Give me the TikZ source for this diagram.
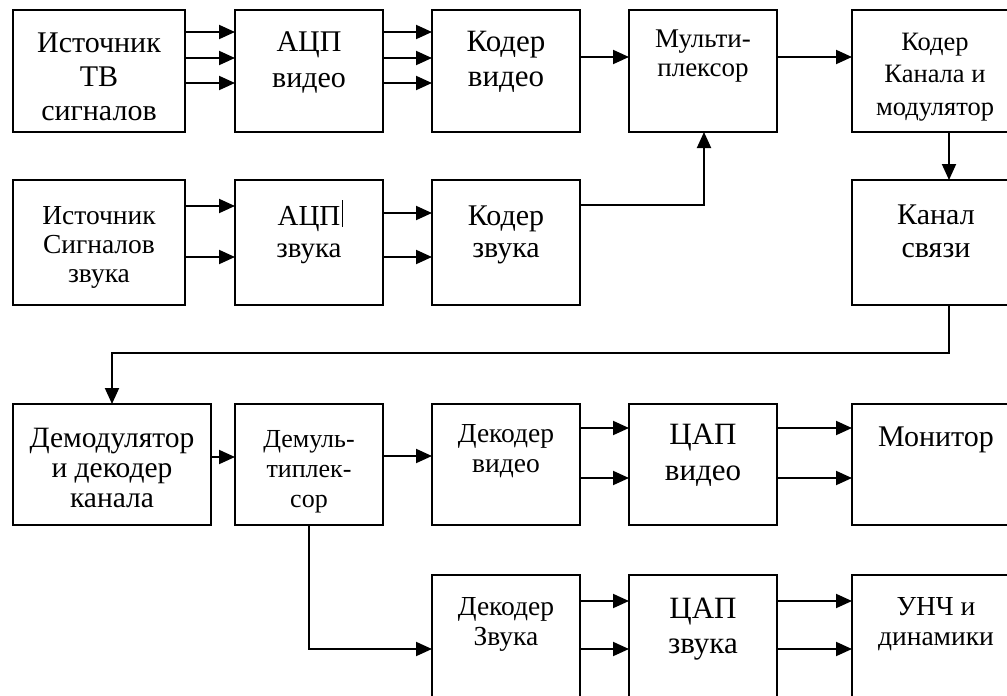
\documentclass[tikz,border=0pt]{standalone}
\usepackage{fontspec}
\setmainfont{Liberation Serif}
\usetikzlibrary{arrows.meta}
\begin{document}
\begin{tikzpicture}[x=1pt,y=-1pt,
  box/.style={draw, line width=1.5pt, rectangle, inner sep=0pt, outer sep=0pt, anchor=north west},
  arr/.style={line width=1.9pt, -{Triangle[length=16pt,width=14pt]}},
  txt/.style 2 args={font=\fontsize{#1}{#2}\selectfont, align=center, anchor=base, inner sep=0pt}]
\useasboundingbox (0,0) rectangle (1007,696);
\clip (0,0) rectangle (1007,696);
\fill[white] (0,0) rectangle (1007,696);
% row 1
\node[box, minimum width=172pt, minimum height=122pt] (b1) at (13,10) {};
\node[box, minimum width=148pt, minimum height=122pt] (b2) at (235,10) {};
\node[box, minimum width=148pt, minimum height=122pt] (b3) at (432,10) {};
\node[box, minimum width=148pt, minimum height=122pt] (b4) at (629,10) {};
\node[box, minimum width=160pt, minimum height=122pt] (b5) at (852,10) {};
% row 2
\node[box, minimum width=172pt, minimum height=125pt] (c1) at (13,180) {};
\node[box, minimum width=148pt, minimum height=125pt] (c2) at (235,180) {};
\node[box, minimum width=148pt, minimum height=125pt] (c3) at (432,180) {};
\node[box, minimum width=160pt, minimum height=125pt] (c5) at (852,180) {};
% row 3
\node[box, minimum width=198pt, minimum height=121pt] (d1) at (13,404) {};
\node[box, minimum width=148pt, minimum height=121pt] (d2) at (235,404) {};
\node[box, minimum width=148pt, minimum height=121pt] (d3) at (432,404) {};
\node[box, minimum width=148pt, minimum height=121pt] (d4) at (629,404) {};
\node[box, minimum width=160pt, minimum height=121pt] (d5) at (852,404) {};
% row 4
\node[box, minimum width=148pt, minimum height=126pt] (e3) at (432,575) {};
\node[box, minimum width=148pt, minimum height=126pt] (e4) at (629,575) {};
\node[box, minimum width=160pt, minimum height=126pt] (e5) at (852,575) {};
% texts (anchor = baseline of last line)
\node[txt={30}{34}] (tb1) at (99,120) {Источник\\ТВ\\сигналов};
\node[txt={30}{36}] (tb2) at (309,87) {АЦП\\видео};
\node[txt={31}{35}] (tb3) at (506,86) {Кодер\\видео};
\node[txt={27}{29}] (tb4) at (703,76) {Мульти-\\плексор};
\node[txt={26.5}{32.5}] (tb5) at (935,115) {Кодер\\Канала и\\модулятор};
\node[txt={27.5}{29}] (tc1) at (99,282) {Источник\\Сигналов\\звука};
\node[txt={29}{32}] (tc2) at (309,257) {АЦП\\звука};
\node[txt={30}{32}] (tc3) at (506,257) {Кодер\\звука};
\node[txt={30}{33}] (tc5) at (936,257) {Канал\\связи};
\node[txt={29.5}{30}] (td1) at (112,507) {Демодулятор\\и декодер\\канала};
\node[txt={26}{30}] (td2) at (309,507) {Демуль-\\типлек-\\сор};
\node[txt={27.5}{30}] (td3) at (506,472) {Декодер\\видео};
\node[txt={31}{36}] (td4) at (703,480) {ЦАП\\видео};
\node[txt={30}{33}] (td5) at (936,446) {Монитор};
\node[txt={27.5}{30}] (te3) at (506,645) {Декодер\\Звука};
\node[txt={31}{35}] (te4) at (703,653) {ЦАП\\звука};
\node[txt={27.5}{30}] (te5) at (936,645) {УНЧ и\\динамики};
\draw[line width=0.9pt] (342,200) -- (342,227);
% connectors row 1
\foreach \yy in {32,58,83} {
  \draw[arr] (b1.east |- 0,\yy) -- (b2.west |- 0,\yy);
  \draw[arr] (b2.east |- 0,\yy) -- (b3.west |- 0,\yy);
}
\draw[arr] (b3.east |- 0,57) -- (b4.west |- 0,57);
\draw[arr] (b4.east |- 0,57) -- (b5.west |- 0,57);
\draw[arr] (b5.south -| 949,0) -- (c5.north -| 949,0);
% row 2
\draw[arr] (c1.east |- 0,206) -- (c2.west |- 0,206);
\draw[arr] (c1.east |- 0,257) -- (c2.west |- 0,257);
\draw[arr] (c2.east |- 0,213) -- (c3.west |- 0,213);
\draw[arr] (c2.east |- 0,257) -- (c3.west |- 0,257);
\draw[arr] (c3.east |- 0,205) -| (b4.south -| 704,0);
% channel to demodulator
\draw[arr] (c5.south -| 949,0) |- (112,353) -- (d1.north -| 112,0);
% row 3
\draw[arr] (d1.east |- 0,457) -- (d2.west |- 0,457);
\draw[arr] (d2.east |- 0,456) -- (d3.west |- 0,456);
\foreach \yy in {428,478} {
  \draw[arr] (d3.east |- 0,\yy) -- (d4.west |- 0,\yy);
  \draw[arr] (d4.east |- 0,\yy) -- (d5.west |- 0,\yy);
}
\draw[arr] (d2.south -| 309,0) |- (e3.west |- 0,649);
% row 4
\foreach \yy in {601,649} {
  \draw[arr] (e3.east |- 0,\yy) -- (e4.west |- 0,\yy);
  \draw[arr] (e4.east |- 0,\yy) -- (e5.west |- 0,\yy);
}
\end{tikzpicture}
\end{document}
